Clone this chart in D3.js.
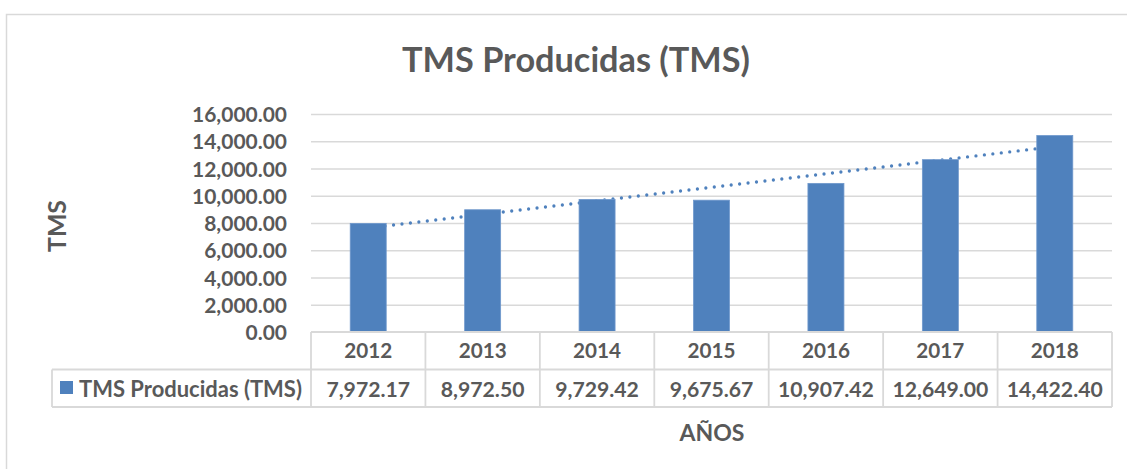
<!DOCTYPE html>
<html><head><meta charset="utf-8">
<script src="https://cdn.jsdelivr.net/npm/d3@7/dist/d3.min.js"></script>
<style>html,body{margin:0;padding:0;background:#fff;}svg{display:block;font-family:Lato,"Open Sans",sans-serif;font-weight:bold;}</style>
</head><body>
<svg id="c" width="1127" height="469"></svg>
<script>
const categories = ["2012","2013","2014","2015","2016","2017","2018"];
const values = [7972.17, 8972.50, 9729.42, 9675.67, 10907.42, 12649.00, 14422.40];
const yTicks = [0,2000,4000,6000,8000,10000,12000,14000,16000];
const seriesName = "TMS Producidas (TMS)";
const title = "TMS Producidas (TMS)";
const yTitle = "TMS";
const xTitle = "AÑOS";

const svg = d3.select("#c");
const txt = "#595959", grid = "#d9d9d9", barCol = "#4f81bd";
const L = 311, R = 1112, T = 114, B = 332;
const x = d3.scaleBand().domain(categories).range([L, R]).paddingInner(0).paddingOuter(0);
const y = d3.scaleLinear().domain([0,16000]).range([B, T]);
const fmt = d3.format(",.2f");

function fitSize(str, target){
  const t = svg.append("text").attr("font-size", 100).text(str);
  const w = t.node().getComputedTextLength(); t.remove();
  return 100 * target / w;
}

// outer border
svg.append("rect").attr("x",6.5).attr("y",14.5).attr("width",1140).attr("height",480)
  .attr("fill","none").attr("stroke",grid).attr("stroke-width",1.5);

// title
svg.append("text").attr("x",576).attr("y",72).attr("text-anchor","middle")
  .attr("fill",txt).attr("font-size",fitSize(title,348)).text(title);

// gridlines + y tick labels
const yAxis = d3.axisLeft(y).tickValues(yTicks).tickSize(-(R-L)).tickFormat(fmt).tickPadding(24);
const ga = svg.append("g").attr("transform",`translate(${L},0)`).call(yAxis);
ga.select(".domain").remove();
ga.selectAll(".tick line").attr("stroke",grid).attr("stroke-width",1.5);
const tickSize = fitSize("16,000.00",95);
ga.selectAll(".tick text").attr("fill",txt).attr("font-size",tickSize)
  .attr("font-family","Lato,'Open Sans',sans-serif").attr("font-weight","bold").attr("dy","0.36em");
ga.selectAll(".tick").filter(d=>d===0).select("line").remove();

// linear trendline (least squares over category index)
const n = values.length, xs = d3.range(n);
const mx = d3.mean(xs), my = d3.mean(values);
const slope = d3.sum(xs,i=>(i-mx)*(values[i]-my)) / d3.sum(xs,i=>(i-mx)*(i-mx));
const icpt = my - slope*mx;
const cx = c => x(c) + x.bandwidth()/2;
svg.append("line")
  .attr("x1",cx(categories[0])).attr("y1",y(icpt))
  .attr("x2",cx(categories[n-1])).attr("y2",y(icpt+slope*(n-1)))
  .attr("stroke",barCol).attr("stroke-width",3.3).attr("stroke-linecap","round")
  .attr("stroke-dasharray","0 8.5");

// bars
const bw = 36;
svg.append("g").selectAll("rect").data(categories).join("rect")
  .attr("x",d=>cx(d)-bw/2).attr("width",bw)
  .attr("y",(d,i)=>y(values[i])).attr("height",(d,i)=>y(0)-y(values[i]))
  .attr("fill",barCol).attr("stroke","#6f98cc").attr("stroke-width",0.8);

// data table
const r1 = B, r2 = 369.5, r3 = 407, legL = 52;
const tg = svg.append("g").attr("stroke",grid).attr("stroke-width",1.8).attr("fill","none");
tg.append("line").attr("x1",L).attr("x2",R).attr("y1",r1).attr("y2",r1);
tg.append("line").attr("x1",legL).attr("x2",R).attr("y1",r2).attr("y2",r2);
tg.append("line").attr("x1",legL).attr("x2",R).attr("y1",r3).attr("y2",r3);
tg.append("line").attr("x1",legL).attr("x2",legL).attr("y1",r2).attr("y2",r3);
tg.selectAll("line.v").data(categories.concat(["end"])).join("line").attr("class","v")
  .attr("x1",(d,i)=>L+i*x.bandwidth()).attr("x2",(d,i)=>L+i*x.bandwidth())
  .attr("y1",r1).attr("y2",r3);

const yearSize = fitSize("2012",48);
svg.append("g").selectAll("text").data(categories).join("text")
  .attr("x",d=>cx(d)).attr("y",358).attr("text-anchor","middle")
  .attr("fill",txt).attr("font-size",yearSize).text(d=>d);
const valSize = fitSize("14,422.40",96);
svg.append("g").selectAll("text").data(values).join("text")
  .attr("x",(d,i)=>cx(categories[i])).attr("y",396.5).attr("text-anchor","middle")
  .attr("fill",txt).attr("font-size",valSize).text(d=>fmt(d));

// legend key
svg.append("rect").attr("x",60).attr("y",381).attr("width",13).attr("height",13).attr("fill",barCol);
svg.append("text").attr("x",79).attr("y",396.5).attr("fill",txt)
  .attr("font-size",fitSize(seriesName,223)).text(seriesName);

// axis titles
svg.append("text").attr("transform","translate(66,226) rotate(-90)").attr("text-anchor","middle")
  .attr("fill",txt).attr("font-size",fitSize(yTitle,52)).text(yTitle);
svg.append("text").attr("x",712).attr("y",441).attr("text-anchor","middle")
  .attr("fill",txt).attr("font-size",fitSize(xTitle,65)).text(xTitle);
</script>
</body></html>
